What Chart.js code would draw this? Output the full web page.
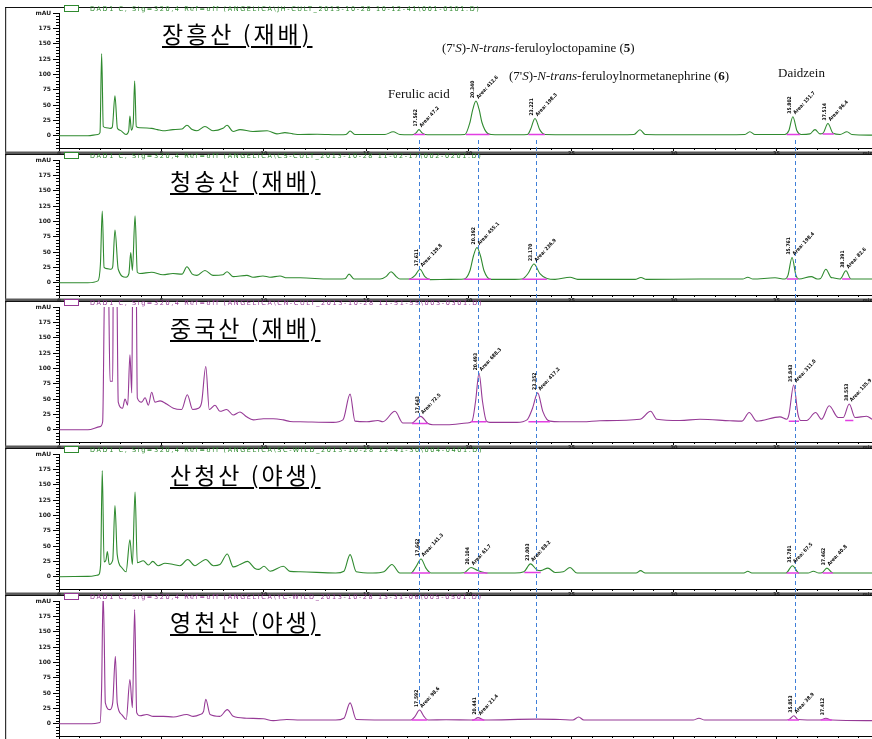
<!DOCTYPE html>
<html>
<head>
<meta charset="utf-8">
<script src="https://cdn.jsdelivr.net/npm/chart.js@4.4.1/dist/chart.umd.min.js"></script>
<style>
html,body{margin:0;padding:0;background:#fff;}
#wrap{position:relative;width:872px;height:739px;overflow:hidden;background:#fff;}
#wrap canvas{position:absolute;left:0;}
.title{position:absolute;z-index:5;font-family:"Noto Sans CJK KR",sans-serif;font-size:23px;line-height:1;letter-spacing:3px;color:#000;white-space:nowrap;text-decoration:underline;text-decoration-thickness:1.5px;text-underline-offset:3px;}
.ann{position:absolute;z-index:5;font-family:"Liberation Serif","DejaVu Serif",serif;font-size:13px;line-height:1;color:#111;white-space:nowrap;}
</style>
</head>
<body>
<div id="wrap">
  <div class="title" style="left:162px;top:22px">장흥산 (재배)</div>
  <div class="title" style="left:170px;top:169px">청송산 (재배)</div>
  <div class="title" style="left:170px;top:316px">중국산 (재배)</div>
  <div class="title" style="left:170px;top:463px">산청산 (야생)</div>
  <div class="title" style="left:170px;top:610px">영천산 (야생)</div>
  <div class="ann" style="left:388px;top:87px">Ferulic acid</div>
  <div class="ann" style="left:442px;top:41px">(7'<i>S</i>)-<i>N</i>-<i>trans</i>-feruloyloctopamine (<b>5</b>)</div>
  <div class="ann" style="left:509px;top:69px">(7'<i>S</i>)-<i>N</i>-<i>trans</i>-feruloylnormetanephrine (<b>6</b>)</div>
  <div class="ann" style="left:778px;top:66px">Daidzein</div>
</div>
<script>
// ---------------- DATA (retention time [min], absorbance [mAU]) ----------------
const xTickValues = [0, 5, 10, 15, 20, 25, 30, 35];
const yTickValues = [0, 25, 50, 75, 100, 125, 150, 175, 200];
const markerTimes = [17.54, 20.44, 23.29, 35.9];           // dashed reference lines
const markerEndLastPanel = [30, 15, 6, 18];                  // where they stop in the last panel (mAU)

const panelNames = ["장흥산 (재배)", "청송산 (재배)", "중국산 (재배)", "산청산 (야생)", "영천산 (야생)"];
const headerTexts = [
  "DAD1 C, Sig=320,4 Ref=off (ANGELICA\\JH-CULT_2013-10-28 10-12-41\\001-0101.D)",
  "DAD1 C, Sig=320,4 Ref=off (ANGELICA\\CS-CULT_2013-10-28 11-02-17\\002-0201.D)",
  "DAD1 C, Sig=320,4 Ref=off (ANGELICA\\CN-CULT_2013-10-28 11-51-55\\003-0301.D)",
  "DAD1 C, Sig=320,4 Ref=off (ANGELICA\\SC-WILD_2013-10-28 12-41-30\\004-0401.D)",
  "DAD1 C, Sig=320,4 Ref=off (ANGELICA\\YC-WILD_2013-10-28 13-31-06\\005-0501.D)"
];

const p1Trace = [[0,0],[1.41,0],[1.9,2],[2.0,5],[2.08,134],[2.16,15],[2.3,13],[2.5,12],[2.6,14],[2.73,65],[2.85,12],[2.98,9],[3.27,2],[3.4,8],[3.46,32],[3.53,9],[3.62,20],[3.69,89],[3.77,15],[3.95,13],[4.52,12],[4.8,10],[5.07,8],[5.56,10],[6.0,11],[6.24,17],[6.5,10],[6.73,8],[7.12,15],[7.51,8],[8.0,12],[8.2,17],[8.49,7],[8.83,10],[9.46,7],[10.15,8],[10.63,3],[11.02,5],[11.41,3],[11.76,2],[12.6,2.5],[13.7,1.5],[14.0,2],[14.2,7.6],[14.45,2],[15.9,2],[16.3,6.5],[16.63,2],[17.12,1.5],[17.3,2],[17.43,5],[17.56,10],[17.7,5],[17.85,2],[18.59,1.5],[19.8,2],[20.05,22],[20.18,42],[20.34,56.5],[20.5,42],[20.63,22],[20.9,4],[21.1,2],[22.0,1.5],[22.85,2],[23.0,10],[23.22,28],[23.45,10],[23.7,2],[26.4,1.5],[28.05,2],[28.34,9.7],[28.6,2],[31.27,1.5],[33.46,2],[33.7,6.5],[33.95,2],[35.41,2],[35.6,8],[35.8,31],[36.0,8],[36.2,2],[36.63,3],[36.88,10],[37.12,3],[37.27,4],[37.51,20],[37.76,4],[38.1,2],[38.44,6.5],[38.68,2],[39.66,1]];
const p2Trace = [[0,0],[1.41,0],[1.9,3],[2.02,30],[2.11,117],[2.2,25],[2.34,23],[2.54,22],[2.62,26],[2.73,86],[2.89,22],[3.27,9],[3.41,15],[3.5,49],[3.58,20],[3.71,109],[3.82,17],[3.95,15],[4.52,17],[5.07,13],[5.56,15],[6.0,14],[6.24,26],[6.5,14],[6.73,12],[7.12,20],[7.51,12],[8.0,13],[8.2,18],[8.49,10],[9.17,12],[9.46,9],[9.95,11],[10.29,9],[10.78,11],[11.12,8],[11.76,8],[13.2,6],[13.95,6.5],[14.15,14],[14.4,6],[15.66,6],[15.95,10],[16.2,18],[16.45,10],[16.63,6],[17.07,6],[17.37,12],[17.61,22],[17.85,10],[18.1,5],[19.07,5.5],[19.76,6],[20.05,20],[20.22,44],[20.39,57.5],[20.56,44],[20.73,20],[21.07,5.5],[22.24,5.5],[22.59,6],[22.88,15],[23.17,30.5],[23.46,15],[23.8,7],[24.2,5.5],[24.93,9],[25.3,5.5],[28.1,5.5],[28.39,8.5],[28.65,5.5],[31.27,6],[33.35,6],[33.6,9],[33.85,6],[34.93,8],[35.41,6],[35.56,12],[35.76,41],[35.95,12],[36.1,6],[36.7,10],[36.98,6],[37.15,7],[37.41,22],[37.65,9],[37.76,8],[38.1,6],[38.39,19.5],[38.63,6],[39.66,6]];
const p3Trace = [[0,0],[1.41,0],[2.0,5],[2.13,13],[2.24,260],[2.4,260],[2.49,79],[2.62,79],[2.65,260],[2.81,260],[2.89,45],[3.1,35],[3.22,50],[3.35,40],[3.46,122],[3.55,60],[3.6,260],[3.76,260],[3.82,52],[4.03,45],[4.2,52],[4.36,40],[4.52,61],[4.68,45],[4.93,47],[5.25,42],[5.58,35],[5.98,33],[6.26,57],[6.52,33],[6.8,35],[6.96,45],[7.16,103],[7.33,33],[7.61,40],[7.85,30],[8.18,33],[8.5,24],[8.83,29],[9.15,21],[9.48,16],[9.97,18],[10.45,18],[10.94,16],[11.27,13.5],[11.76,13],[13.37,12],[13.85,16],[14.2,58],[14.44,14],[15.02,13],[15.56,15],[15.8,13],[16.39,30],[16.78,11],[17.22,11],[17.64,21.7],[18.0,10],[18.24,8],[18.93,8],[19.9,11],[20.15,14],[20.32,46],[20.49,92],[20.66,46],[20.85,14],[21.02,12],[22.34,12],[22.83,16],[23.1,35],[23.35,60],[23.6,30],[23.8,17],[23.95,14],[24.44,13],[25.56,13],[26.39,14.7],[28.34,17],[28.86,30],[29.16,17],[30.29,15],[31.27,17],[32.73,14.7],[33.32,14],[33.67,28],[34.03,14],[35.17,21],[35.5,17],[35.61,25],[35.84,73],[36.05,25],[36.18,15],[36.47,15],[36.91,28],[37.2,17],[37.57,39],[38.01,20],[38.26,20],[38.55,42],[38.83,20],[39.4,22],[39.66,17]];
const p4Trace = [[0,0],[1.41,0.5],[1.92,3],[2.03,20],[2.11,173],[2.2,24],[2.29,27],[2.36,41],[2.45,20],[2.62,27],[2.73,116],[2.84,36],[3.06,15],[3.27,8],[3.46,60],[3.58,20],[3.71,138],[3.82,23],[4.11,26],[4.36,19],[4.57,25],[4.84,18],[5.17,22],[5.58,20],[5.9,18],[6.28,28],[6.63,18],[6.88,23],[7.16,28],[7.53,18],[7.85,20],[8.21,37],[8.5,16],[8.83,20],[9.19,25],[9.56,13.5],[9.75,12],[10.0,17],[10.3,9],[10.94,17],[11.27,8.7],[11.76,8],[13.5,6],[13.9,9],[14.2,36],[14.5,8],[15.3,6],[15.85,8],[16.24,20],[16.63,6],[17.17,6],[17.41,16],[17.66,29],[17.9,14],[18.15,6],[19.32,6],[19.76,6.5],[20.1,15],[20.44,10],[20.93,6],[22.24,6],[22.68,8],[23.0,21],[23.32,11],[23.5,10],[23.85,14],[24.2,7],[24.6,8],[24.93,15],[25.27,6],[26.4,6],[28.15,6],[28.37,10],[28.6,6],[31.27,6],[33.41,6],[33.6,9],[33.8,6],[35.46,6],[35.78,18],[36.1,6],[36.54,6],[36.8,9],[37.07,6],[37.22,6.5],[37.46,14],[37.76,6],[39.66,6]];
const p5Trace = [[0,0],[1.41,0],[2.0,2],[2.08,60],[2.15,210],[2.2,153],[2.26,34],[2.49,23],[2.62,34],[2.75,110],[2.84,34],[3.06,15],[3.28,7],[3.46,72],[3.58,26],[3.69,186],[3.79,18],[3.95,13],[4.28,15],[4.6,12],[5.09,12],[5.58,11],[6.23,15],[6.55,12],[6.88,15],[7.05,20],[7.16,40],[7.37,15],[7.85,12],[8.21,23],[8.5,12],[9.15,9],[9.97,8],[10.45,5],[11.11,7],[11.76,6],[13.5,6],[13.9,9],[14.2,34],[14.5,7],[16.63,6],[17.17,6],[17.37,12],[17.59,22.3],[17.8,12],[18.0,6],[18.88,6.5],[20.2,6],[20.44,10],[20.73,6],[23.27,7.5],[24.44,7],[25.07,6],[25.35,11],[25.6,6],[27.76,6],[30.93,6],[31.22,9],[31.5,6],[35.51,6],[35.66,8],[35.85,13],[36.05,7],[37.12,6],[37.41,9],[37.7,6],[39.66,5]];

// integration baselines: [start, end, level]
const p1Integration = [[17.3,17.85,1.8],[19.85,21.0,2],[22.9,23.7,2],[35.5,36.15,2],[37.25,37.8,3]];
const p2Integration = [[17.07,18.1,5.5],[19.76,21.07,5.5],[22.59,23.8,5.5],[35.5,36.05,6],[38.2,38.6,6]];
const p3Integration = [[17.22,18.0,10],[20.1,20.85,13],[22.9,23.95,13],[35.6,36.1,14],[38.35,38.75,15]];
const p4Integration = [[17.2,18.1,6],[19.76,20.9,6],[22.7,23.5,7],[35.5,36.1,6],[37.25,37.75,6]];
const p5Integration = [[17.2,17.95,6],[20.15,20.75,6],[35.55,36.1,6],[37.15,37.7,6]];

// labelled peaks: retention times and areas (mAU*s)
const p1PeakRT = [17.562, 20.340, 23.221, 35.802, 37.514];
const p1PeakArea = [47.2, 412.6, 198.3, 151.7, 96.4];
const p2PeakRT = [17.611, 20.392, 23.170, 35.761, 38.391];
const p2PeakArea = [129.8, 455.1, 236.9, 198.4, 82.6];
const p3PeakRT = [17.643, 20.493, 23.352, 35.843, 38.553];
const p3PeakArea = [72.5, 688.3, 417.2, 311.0, 135.9];
const p4PeakRT = [17.662, 20.104, 23.003, 35.781, 37.462];
const p4PeakArea = [141.3, 61.7, 88.2, 67.5, 40.8];
const p5PeakRT = [17.592, 20.441, 35.853, 37.412];
const p5PeakArea = [98.6, 21.4, 38.9, null];

// ---------------- STYLE / LAYOUT ----------------
const GREEN = '#2f8a2f', PURPLE = '#963a96', MAGENTA = '#e23fe2', BLUE = '#3f7fd8';
const panels = [
  {trace:p1Trace, integ:p1Integration, rt:p1PeakRT, area:p1PeakArea, color:GREEN},
  {trace:p2Trace, integ:p2Integration, rt:p2PeakRT, area:p2PeakArea, color:GREEN},
  {trace:p3Trace, integ:p3Integration, rt:p3PeakRT, area:p3PeakArea, color:PURPLE},
  {trace:p4Trace, integ:p4Integration, rt:p4PeakRT, area:p4PeakArea, color:GREEN},
  {trace:p5Trace, integ:p5Integration, rt:p5PeakRT, area:p5PeakArea, color:PURPLE}
];
const panelTops = [7, 154, 301, 448, 595];
const CANVAS_H = 156, OFF = 7;

const decor = {
  id: 'decor',
  beforeDraw(chart, args, o) {
    const ctx = chart.ctx, W = chart.width;
    ctx.save();
    ctx.fillStyle = '#333';
    ctx.fillRect(5, OFF, 1.2, CANVAS_H - OFF);
    ctx.fillStyle = '#111';
    ctx.fillRect(5, OFF, W - 5, 1);
    if (o.index < 4) {
      ctx.fillStyle = '#5a5a5a';
      ctx.fillRect(5, 151.5, W - 5, 3.5);
    }
    ctx.restore();
  },
  afterDatasetsDraw(chart, args, o) {
    const ctx = chart.ctx, xs = chart.scales.x, ys = chart.scales.y;
    const p = panels[o.index];
    ctx.save();
    // dashed reference lines
    ctx.strokeStyle = BLUE; ctx.lineWidth = 1; ctx.setLineDash([4, 3]);
    markerTimes.forEach((t, k) => {
      const x = Math.round(xs.getPixelForValue(t)) + 0.5;
      let y0 = 0, y1 = CANVAS_H;
      if (o.index === 0) y0 = 140;
      if (o.index === 4) y1 = ys.getPixelForValue(markerEndLastPanel[k]);
      ctx.beginPath(); ctx.moveTo(x, y0); ctx.lineTo(x, y1); ctx.stroke();
    });
    ctx.setLineDash([]);
    // peak annotations
    ctx.fillStyle = '#000';
    ctx.font = 'bold 5px "DejaVu Sans Condensed","DejaVu Sans",sans-serif';
    p.rt.forEach((rt, k) => {
      let apex = 0;
      p.trace.forEach(([t, v]) => { if (Math.abs(t - rt) < 0.2 && v > apex) apex = v; });
      const x = xs.getPixelForValue(rt), y = ys.getPixelForValue(apex);
      ctx.save();
      ctx.translate(x - 0.5, y - 3);
      ctx.rotate(-Math.PI / 2);
      ctx.textAlign = 'left'; ctx.textBaseline = 'bottom';
      ctx.fillText(rt.toFixed(3), 0, 0);
      ctx.restore();
      if (p.area[k] !== null) {
        ctx.save();
        ctx.translate(x + 1.5, y - 3);
        ctx.rotate(-0.82);
        ctx.textAlign = 'left'; ctx.textBaseline = 'middle';
        ctx.fillText('Area: ' + p.area[k].toFixed(1), 0, 0);
        ctx.restore();
      }
    });
    ctx.restore();
  },
  afterDraw(chart, args, o) {
    const ctx = chart.ctx, xs = chart.scales.x, ys = chart.scales.y, ca = chart.chartArea;
    const p = panels[o.index];
    ctx.save();
    // minor ticks
    ctx.strokeStyle = '#000'; ctx.lineWidth = 1;
    ctx.beginPath();
    for (let v = -20; v <= 200; v += 5) {
      if (v % 25 === 0) continue;
      const y = Math.round(ys.getPixelForValue(v)) + 0.5;
      ctx.moveTo(ca.left - 3, y); ctx.lineTo(ca.left, y);
    }
    for (let t = 1; t < 40; t++) {
      if (t % 5 === 0) continue;
      const x = Math.round(xs.getPixelForValue(t)) + 0.5;
      ctx.moveTo(x, ca.bottom); ctx.lineTo(x, ca.bottom + 2);
    }
    ctx.stroke();
    ctx.fillStyle = '#222';
    ctx.font = 'bold 5px "DejaVu Sans",sans-serif';
    ctx.textAlign = 'center'; ctx.textBaseline = 'top';
    ctx.fillText('min', xs.getPixelForValue(39.45), ca.bottom + 3);
    // legend box & header
    ctx.fillStyle = '#fff'; ctx.strokeStyle = p.color; ctx.lineWidth = 1;
    ctx.fillRect(64, OFF - 2, 14, 6.5);
    ctx.strokeRect(64.5, OFF - 1.5, 14, 6);
    ctx.fillStyle = p.color;
    ctx.font = '6.5px "DejaVu Sans",sans-serif';
    if ('letterSpacing' in ctx) ctx.letterSpacing = '1.6px';
    ctx.textAlign = 'left'; ctx.textBaseline = 'middle';
    ctx.fillText(headerTexts[o.index], 90, OFF + 2);
    ctx.restore();
  }
};

function buildConfig(i) {
  const p = panels[i];
  const integ = [];
  p.integ.forEach(([a, b, lv]) => { integ.push({x:a, y:lv}, {x:b, y:lv}, {x:b, y:null}); });
  return {
    type: 'line',
    data: {
      datasets: [
        { label: panelNames[i] + ' baseline', data: integ, borderColor: MAGENTA, borderWidth: 1.5,
          pointRadius: 0, spanGaps: false, order: 0, fill: false },
        { label: panelNames[i], data: p.trace.map(([t, v]) => ({x: t, y: v})), borderColor: p.color,
          borderWidth: 1.1, pointRadius: 0, cubicInterpolationMode: 'monotone', order: 1, fill: false }
      ]
    },
    options: {
      responsive: false, animation: false, devicePixelRatio: 1,
      layout: { padding: { left: 0, right: 0, top: 13, bottom: 2 } },
      plugins: { legend: { display: false }, tooltip: { enabled: false }, decor: { index: i } },
      scales: {
        x: {
          type: 'linear', min: 0, max: 39.66,
          afterBuildTicks: s => { s.ticks = xTickValues.map(v => ({value: v})); },
          afterFit: s => { s.height = 6; },
          grid: { drawOnChartArea: false, tickLength: 3, color: '#000' },
          border: { color: '#000', width: 1 },
          ticks: { font: { size: 5, weight: 'bold', family: 'DejaVu Sans' }, color: '#222', padding: 0,
                   maxRotation: 0, autoSkip: false, callback: v => String(v) }
        },
        y: {
          type: 'linear', min: -20, max: 200,
          afterBuildTicks: s => { s.ticks = yTickValues.map(v => ({value: v})); },
          afterFit: s => { s.width = 59; },
          grid: { drawOnChartArea: false, tickLength: 6, color: '#000' },
          border: { color: '#000', width: 1 },
          ticks: { font: { size: 6, weight: 'bold', family: 'DejaVu Sans' }, color: '#222', padding: 2,
                   autoSkip: false, callback: v => (v === 200 ? 'mAU' : String(v)) }
        }
      }
    },
    plugins: [decor]
  };
}

const wrap = document.getElementById('wrap');
const firstText = wrap.firstElementChild;
panelTops.forEach((T, i) => {
  const c = document.createElement('canvas');
  c.width = 872; c.height = CANVAS_H;
  c.style.width = '872px'; c.style.height = CANVAS_H + 'px';
  c.style.top = (T - OFF) + 'px';
  wrap.insertBefore(c, firstText);
  new Chart(c, buildConfig(i));
});
</script>
</body>
</html>
